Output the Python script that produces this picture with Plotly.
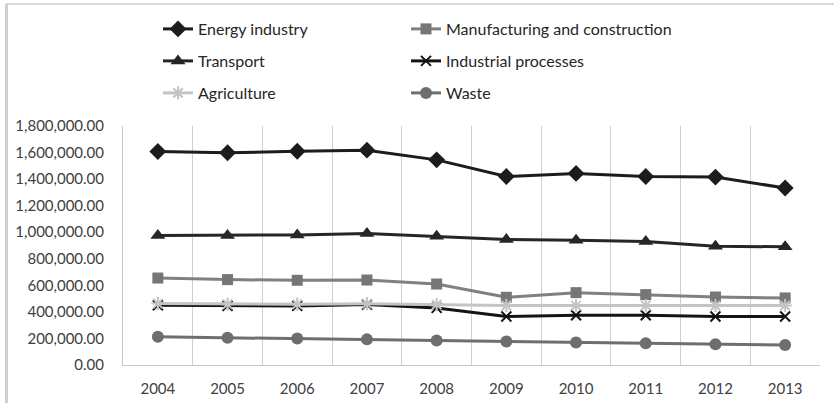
import plotly.graph_objects as go

years = [2004, 2005, 2006, 2007, 2008, 2009, 2010, 2011, 2012, 2013]
energy = [1608000, 1598000, 1610000, 1618000, 1545000, 1420000, 1443000, 1420000, 1415000, 1333000]
manufacturing = [655000, 643000, 638000, 640000, 610000, 510000, 545000, 530000, 512000, 505000]
transport = [975000, 975000, 980000, 990000, 970000, 945000, 940000, 930000, 895000, 890000]
industrial = [450000, 445000, 445000, 455000, 430000, 365000, 375000, 375000, 365000, 365000]
agriculture = [463000, 458000, 458000, 462000, 455000, 448000, 448000, 448000, 448000, 448000]
waste = [212000, 205000, 200000, 193000, 185000, 177000, 170000, 163000, 157000, 150000]
y_ticks = [0, 200000, 400000, 600000, 800000, 1000000, 1200000, 1400000, 1600000, 1800000]

FONT = "Lato"
W, H = 834, 403
L, R, T, B = 123, 14, 126, 38
PW, PH = W - L - R, H - T - B

def px_to_paper_x(px):
    return (px - L) / PW

def px_to_paper_y(py):
    return (H - B - py) / PH

# name, values, line colour, marker colour, symbol, size, legend id, legend column px, legend row px
series = [
    ("Energy industry", energy, "#1c1c1c", "#1c1c1c", "diamond", 13, "legend", 158, 29),
    ("Manufacturing and construction", manufacturing, "#808080", "#767676", "square", 11, "legend2", 406, 29),
    ("Transport", transport, "#262626", "#262626", "triangle-up", 13, "legend3", 158, 61),
    ("Industrial processes", industrial, "#141414", "#141414", "x-thin-open", 10, "legend4", 406, 61),
    ("Agriculture", agriculture, "#c4c4c4", "#c4c4c4", "asterisk-open", 11, "legend5", 158, 93),
    ("Waste", waste, "#6e6e6e", "#6e6e6e", "circle", 12, "legend6", 406, 93),
]

fig = go.Figure()
legends = {}
for name, vals, lc, mc, sym, size, leg, lxp, lyp in series:
    marker = dict(symbol=sym, size=size, color=mc)
    if sym.endswith("-open"):
        marker["line"] = dict(color=mc, width=2)
    fig.add_trace(go.Scatter(
        x=years, y=vals, name=name, mode="lines+markers",
        line=dict(color=lc, width=3), marker=marker, legend=leg, showlegend=True,
    ))
    legends[leg] = dict(
        x=px_to_paper_x(lxp), y=px_to_paper_y(lyp),
        orientation="h", xanchor="left", yanchor="middle",
        font=dict(family=FONT, size=16, color="#262626"),
        bgcolor="rgba(0,0,0,0)", itemclick=False, itemdoubleclick=False,
    )

fig.update_layout(
    width=W, height=H,
    showlegend=True,
    margin=dict(l=L, r=R, t=T, b=B, autoexpand=False),
    paper_bgcolor="white", plot_bgcolor="white",
    font=dict(family=FONT, color="#404040"),
    **legends,
    xaxis=dict(
        range=[2003.5, 2013.5], tickvals=years, ticktext=[str(y) for y in years],
        showgrid=False, zeroline=False, showline=True, linecolor="#c8c8c8", linewidth=1,
        ticks="", tickfont=dict(family=FONT, size=15, color="#404040"),
        ticklabelstandoff=10, automargin=False,
        minor=dict(tickvals=[y + 0.5 for y in years], showgrid=True,
                   gridcolor="#cfcfcf", gridwidth=1, ticks=""),
    ),
    yaxis=dict(
        range=[0, 1800000], tickvals=y_ticks, tickformat=",.2f",
        showgrid=False, zeroline=False, showline=True, linecolor="#c8c8c8", linewidth=1,
        ticks="", tickfont=dict(family=FONT, size=15, color="#404040"),
        ticklabelstandoff=15, automargin=False,
    ),
    shapes=[
        dict(type="line", xref="paper", yref="paper",
             x0=px_to_paper_x(6), x1=px_to_paper_x(834), y0=px_to_paper_y(4), y1=px_to_paper_y(4),
             line=dict(color="#d9d9d9", width=2)),
        dict(type="line", xref="paper", yref="paper",
             x0=px_to_paper_x(6.5), x1=px_to_paper_x(6.5), y0=px_to_paper_y(4), y1=px_to_paper_y(403),
             line=dict(color="#d0d0d0", width=3)),
    ],
)

fig.write_html("out.html")
